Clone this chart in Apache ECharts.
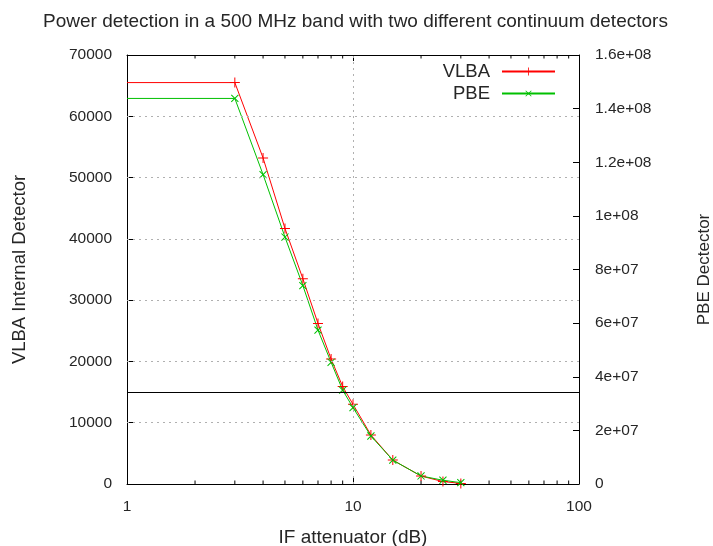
<!DOCTYPE html>
<html>
<head>
<meta charset="utf-8">
<script src="https://cdn.jsdelivr.net/npm/echarts@6/dist/echarts.min.js"></script>
<style>html,body{margin:0;padding:0;background:#fff;}#c{width:713px;height:546px;}</style>
</head>
<body>
<div id="c"></div>
<script>
// ---- data ----
const attenuation = [1, 3, 4, 5, 6, 7, 8, 9, 10, 12, 15, 20, 25, 30];
const vlbaValues  = [65500, 65500, 53200, 41700, 33500, 26200, 20400, 15900, 13000, 8000, 3900, 1300, 400, 100];
const pbeValues   = [1.438e8, 1.438e8, 1.154e8, 9.21e7, 7.40e7, 5.74e7, 4.54e7, 3.50e7, 2.85e7, 1.79e7, 8.9e6, 3.0e6, 1.4e6, 5e5];
const xTickLabels = {1: '1', 10: '10', 100: '100'};
const xMinorTicks = [2, 3, 4, 5, 6, 7, 8, 9, 20, 30, 40, 50, 60, 70, 80, 90];
const leftGridValues = [10000, 20000, 30000, 40000, 50000, 60000];
const rightTickLabels = ['0', '2e+07', '4e+07', '6e+07', '8e+07', '1e+08', '1.2e+08', '1.4e+08', '1.6e+08'];
const thresholdLevel = 15000;
const markerX = 10;

const FONT = 'Liberation Sans, Arial, sans-serif';
const TXT = '#262626';
const plusPath = 'path://M0,4.5L10,4.5L10,5.5L0,5.5Z M4.5,0L5.5,0L5.5,10L4.5,10Z';

const chart = echarts.init(document.getElementById('c'), null, {renderer: 'canvas'});

const option = {
  animation: false,
  backgroundColor: '#fff',
  title: {
    text: 'Power detection in a 500 MHz band with two different continuum detectors',
    left: 38, top: 7,
    textStyle: {fontFamily: FONT, fontSize: 19, fontWeight: 'normal', color: TXT}
  },
  grid: {left: 127, right: 134, top: 55, bottom: 62, show: false, containLabel: false, outerBoundsMode: 'none'},
  legend: {
    data: ['VLBA', 'PBE'],
    orient: 'vertical',
    align: 'right',
    right: 157, top: 62, padding: 0,
    itemWidth: 53, itemHeight: 10, itemGap: 3,
    textStyle: {fontFamily: FONT, fontSize: 18.5, color: TXT, padding: [0, 7, 0, 0]}
  },
  xAxis: [{
    type: 'log', logBase: 10, min: 1, max: 100,
    name: 'IF attenuator (dB)', nameLocation: 'middle', nameGap: 44,
    nameTextStyle: {fontFamily: FONT, fontSize: 19, color: TXT},
    axisLine: {show: true, onZero: false, lineStyle: {color: '#000', width: 1}},
    axisTick: {show: true, inside: true, length: 6, lineStyle: {color: '#000'}},
    axisLabel: {fontFamily: FONT, fontSize: 15.5, color: TXT, margin: 15,
      formatter: v => xTickLabels[Math.round(v)] || ''},
    splitLine: {show: false}
  }, {
    type: 'log', logBase: 10, min: 1, max: 100, position: 'top',
    axisLine: {show: true, onZero: false, lineStyle: {color: '#000', width: 1}},
    axisTick: {show: true, inside: true, length: 6, lineStyle: {color: '#000'}},
    axisLabel: {show: false}, splitLine: {show: false}
  }],
  yAxis: [{
    type: 'value', min: 0, max: 70000, interval: 10000, position: 'left',
    name: 'VLBA Internal Detector', nameLocation: 'middle', nameGap: 98,
    nameTextStyle: {fontFamily: FONT, fontSize: 18.5, color: TXT},
    axisLine: {show: true, onZero: false, lineStyle: {color: '#000', width: 1}},
    axisTick: {show: true, inside: true, length: 6, lineStyle: {color: '#000'}},
    axisLabel: {fontFamily: FONT, fontSize: 15.5, color: TXT, margin: 15,
      formatter: v => String(v)},
    splitLine: {show: false}
  }, {
    type: 'value', min: 0, max: 1.6e8, interval: 2e7, position: 'right',
    name: 'PBE Dectector', nameLocation: 'middle', nameGap: 117, nameRotate: 90,
    nameTextStyle: {fontFamily: FONT, fontSize: 17, color: TXT},
    axisLine: {show: true, onZero: false, lineStyle: {color: '#000', width: 1}},
    axisTick: {show: true, inside: true, length: 6, lineStyle: {color: '#000'}},
    axisLabel: {fontFamily: FONT, fontSize: 15.5, color: TXT, margin: 16,
      formatter: (v) => rightTickLabels[Math.round(v / 2e7)]},
    splitLine: {show: false}
  }],
  series: [{
    type: 'custom',
    name: 'ticks',
    xAxisIndex: 0, yAxisIndex: 0,
    z: 1,
    silent: true,
    data: xMinorTicks.map(v => [v, 0]),
    encode: {x: 0, y: 1},
    renderItem: function (params, api) {
      const v = api.value(0);
      const b = api.coord([v, 0]);
      const t = api.coord([v, 70000]);
      return {
        type: 'group',
        children: [
          {type: 'line', shape: {x1: b[0], y1: b[1], x2: b[0], y2: b[1] - 3.5}, style: {stroke: '#000', lineWidth: 1}},
          {type: 'line', shape: {x1: t[0], y1: t[1], x2: t[0], y2: t[1] + 3.5}, style: {stroke: '#000', lineWidth: 1}}
        ]
      };
    },
    markLine: {
      silent: true, symbol: 'none', label: {show: false},
      data: leftGridValues.map(v => ({yAxis: v, lineStyle: {color: '#b0b0b0', type: [2, 4], width: 1}}))
        .concat([{xAxis: markerX, lineStyle: {color: '#b0b0b0', type: [2, 4], width: 1}}])
        .concat([{yAxis: thresholdLevel, lineStyle: {color: '#000', type: 'solid', width: 1}}])
    }
  }, {
    name: 'VLBA', type: 'line',
    xAxisIndex: 0, yAxisIndex: 0, z: 3,
    data: attenuation.map((x, i) => ({value: [x, vlbaValues[i]], symbol: i === 0 ? 'none' : plusPath})),
    symbol: plusPath, symbolSize: 10, showSymbol: true,
    lineStyle: {color: '#ff0000', width: 1},
    itemStyle: {color: '#ff0000'}
  }, {
    name: 'PBE', type: 'line',
    xAxisIndex: 0, yAxisIndex: 1, z: 3,
    data: attenuation.map((x, i) => ({value: [x, pbeValues[i]], symbol: i === 0 ? 'none' : plusPath})),
    symbol: plusPath, symbolSize: 10, symbolRotate: 45, showSymbol: true,
    lineStyle: {color: '#00c000', width: 1},
    itemStyle: {color: '#00c000'}
  }]
};
chart.setOption(option);
</script>
</body>
</html>
